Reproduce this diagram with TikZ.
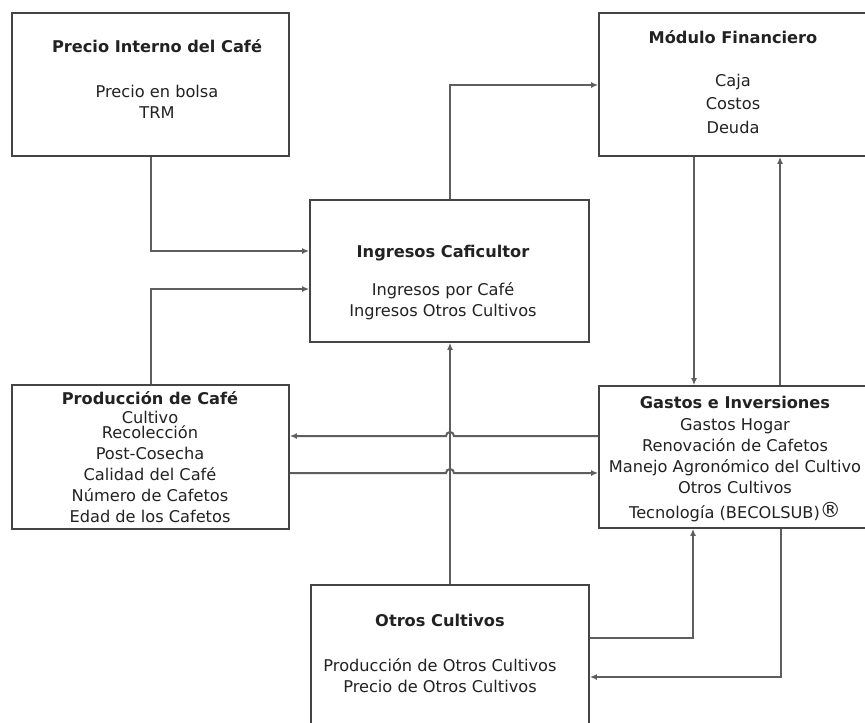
\documentclass[tikz,border=0pt]{standalone}
\usepackage{fontspec}
\setmainfont{DejaVu Sans}
\usetikzlibrary{arrows.meta}
\definecolor{linegray}{HTML}{5E5E5E}
\definecolor{boxgray}{HTML}{444444}
\definecolor{inkgray}{HTML}{222222}
\begin{document}
\begin{tikzpicture}[x=1pt,y=-1pt,
    box/.style={draw=boxgray,line width=1.8pt,rectangle,inner sep=0pt},
    txt/.style={anchor=base,align=center,text=inkgray,inner sep=0pt,font=\fontsize{16.2}{21}\selectfont},
    ttl/.style={txt,font=\fontsize{16.2}{21}\selectfont\bfseries},
    arr/.style={draw=linegray,line width=2pt,-{Latex[length=7pt,width=6pt]}}]
  \useasboundingbox (0,0) rectangle (865,723);
  \clip (0,0) rectangle (865,723);
  \fill[white] (0,0) rectangle (865,723);
  % boxes (text nodes sit on the baseline of their last line)
  \node[box,minimum width=277pt,minimum height=143pt] (precio) at (150.5,84.5) {};
  \node[ttl] (precioT) at (157,52) {Precio Interno del Café};
  \node[txt] (precioL) at (157,118) {Precio en bolsa\\TRM};
  \node[box,minimum width=279pt,minimum height=142pt] (ingresos) at (449.5,271) {};
  \node[ttl] (ingresosT) at (443,257) {Ingresos Caficultor};
  \node[txt] (ingresosL) at (443,316) {Ingresos por Café\\Ingresos Otros Cultivos};
  \node[box,minimum width=269pt,minimum height=143pt] (modulo) at (733.5,84.5) {};
  \node[ttl] (moduloT) at (733,43) {Módulo Financiero};
  \node[txt] (moduloL) at (733,133) {Caja\\[2.5pt]Costos\\[2.5pt]Deuda};
  \node[box,minimum width=277pt,minimum height=144pt] (produccion) at (150.5,457) {};
  \node[ttl] (produccionT) at (150,404) {Producción de Café};
  \node[txt] (produccionL) at (150,522) {Cultivo\\[-6pt]Recolección\\Post-Cosecha\\Calidad del Café\\Número de Cafetos\\Edad de los Cafetos};
  \node[box,minimum width=269pt,minimum height=142pt] (gastos) at (733.5,457) {};
  \node[ttl] (gastosT) at (735,408) {Gastos e Inversiones};
  \node[txt] (gastosL) at (735,518) {Gastos Hogar\\Renovación de Cafetos\\Manejo Agronómico del Cultivo\\Otros Cultivos\\[4pt]Tecnología (BECOLSUB)\raisebox{1pt}{\fontsize{21}{21}\selectfont ®}};
  \node[box,minimum width=278pt,minimum height=160pt] (otros) at (450,665) {};
  \node[ttl] (otrosT) at (440,626) {Otros Cultivos};
  \node[txt] (otrosL) at (440,692) {Producción de Otros Cultivos\\Precio de Otros Cultivos};
  % connectors
  \begin{scope}[arr]
    \draw (precio.south) |- (ingresos.west |- 0,251);
    \draw (produccion.north) |- (ingresos.west |- 0,289);
    \draw (ingresos.north) |- (modulo.west |- 0,85);
    \draw (modulo.south -| 694,0) -- (gastos.north -| 694,0);
    \draw (gastos.north -| 780,0) -- (modulo.south -| 780,0);
    \draw (otros.north) -- (otros.north |- ingresos.south);
    \draw (gastos.west |- 0,436) -- (454,436) arc[start angle=0,end angle=180,radius=4pt] -- (produccion.east |- 0,436);
    \draw (produccion.east |- 0,473) -- (446,473) arc[start angle=180,end angle=0,radius=4pt] -- (gastos.west |- 0,473);
    \draw (otros.east |- 0,638) -| (gastos.south -| 693,0);
    \draw (gastos.south -| 781,0) |- (otros.east |- 0,677);
  \end{scope}
\end{tikzpicture}
\end{document}
